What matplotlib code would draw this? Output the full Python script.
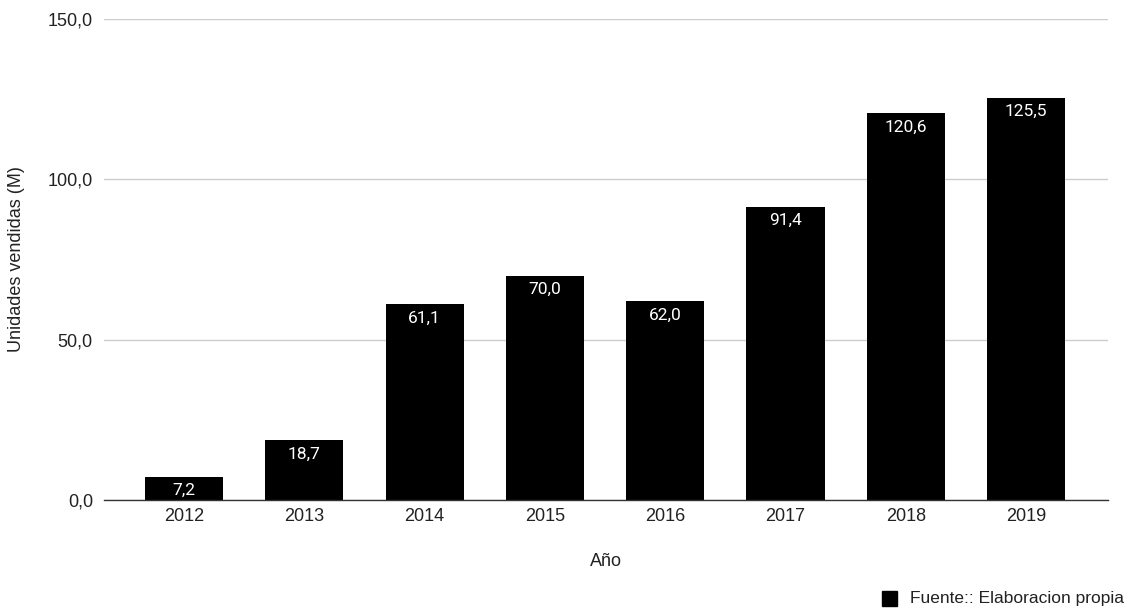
import matplotlib
matplotlib.use("Agg")
import matplotlib.pyplot as plt
from matplotlib.patches import Rectangle

years = ["2012", "2013", "2014", "2015", "2016", "2017", "2018", "2019"]
values = [7.2, 18.7, 61.1, 70.0, 62.0, 91.4, 120.6, 125.5]
yticks = [0, 50, 100, 150]
ytick_labels = ["0,0", "50,0", "100,0", "150,0"]

plt.rcParams['font.family'] = ['Liberation Sans', 'DejaVu Sans']

fig = plt.figure(figsize=(11.24, 6.08), dpi=100)
ax = fig.add_axes([104/1124, 1-500/608, (1108-104)/1124, (500-19)/608])

x = list(range(len(years)))
bars = ax.bar(x, values, width=0.65, color="black", zorder=3)

for xi, v in zip(x, values):
    lbl = f"{v:.1f}".replace(".", ",")
    ax.annotate(lbl, (xi, v), xytext=(0, -10), textcoords="offset points",
                ha="center", va="center", color="white", fontsize=12.5,
                family=["Roboto", "DejaVu Sans"], zorder=4)

ax.set_xlim(-0.665, 7.68)
ax.set_ylim(0, 150)
ax.set_yticks(yticks)
ax.set_yticklabels(ytick_labels)
ax.set_xticks(x)
ax.set_xticklabels(years)
ax.tick_params(axis="both", length=0, labelsize=13, colors="#222222")
ax.tick_params(axis="x", pad=6)
ax.tick_params(axis="y", pad=8)

ax.grid(axis="y", color="#cccccc", linewidth=1, zorder=0)
for s in ["top", "right", "left"]:
    ax.spines[s].set_visible(False)
ax.spines["bottom"].set_color("#333333")
ax.spines["bottom"].set_linewidth(1)
ax.spines["bottom"].set_zorder(5)

ax.set_xlabel("Año", fontsize=13, color="#222222", labelpad=20)
ax.set_ylabel("Unidades vendidas (M)", fontsize=13, color="#222222", labelpad=16)

# legend
fig.patches.append(Rectangle((882/1124, 1-606/608), 15/1124, 15/608,
                             transform=fig.transFigure, color="black"))
fig.text(910/1124, 1-598/608, "Fuente:: Elaboracion propia", fontsize=12.5,
         color="#222222", va="center", ha="left")

fig.savefig("out.png", dpi=100)
